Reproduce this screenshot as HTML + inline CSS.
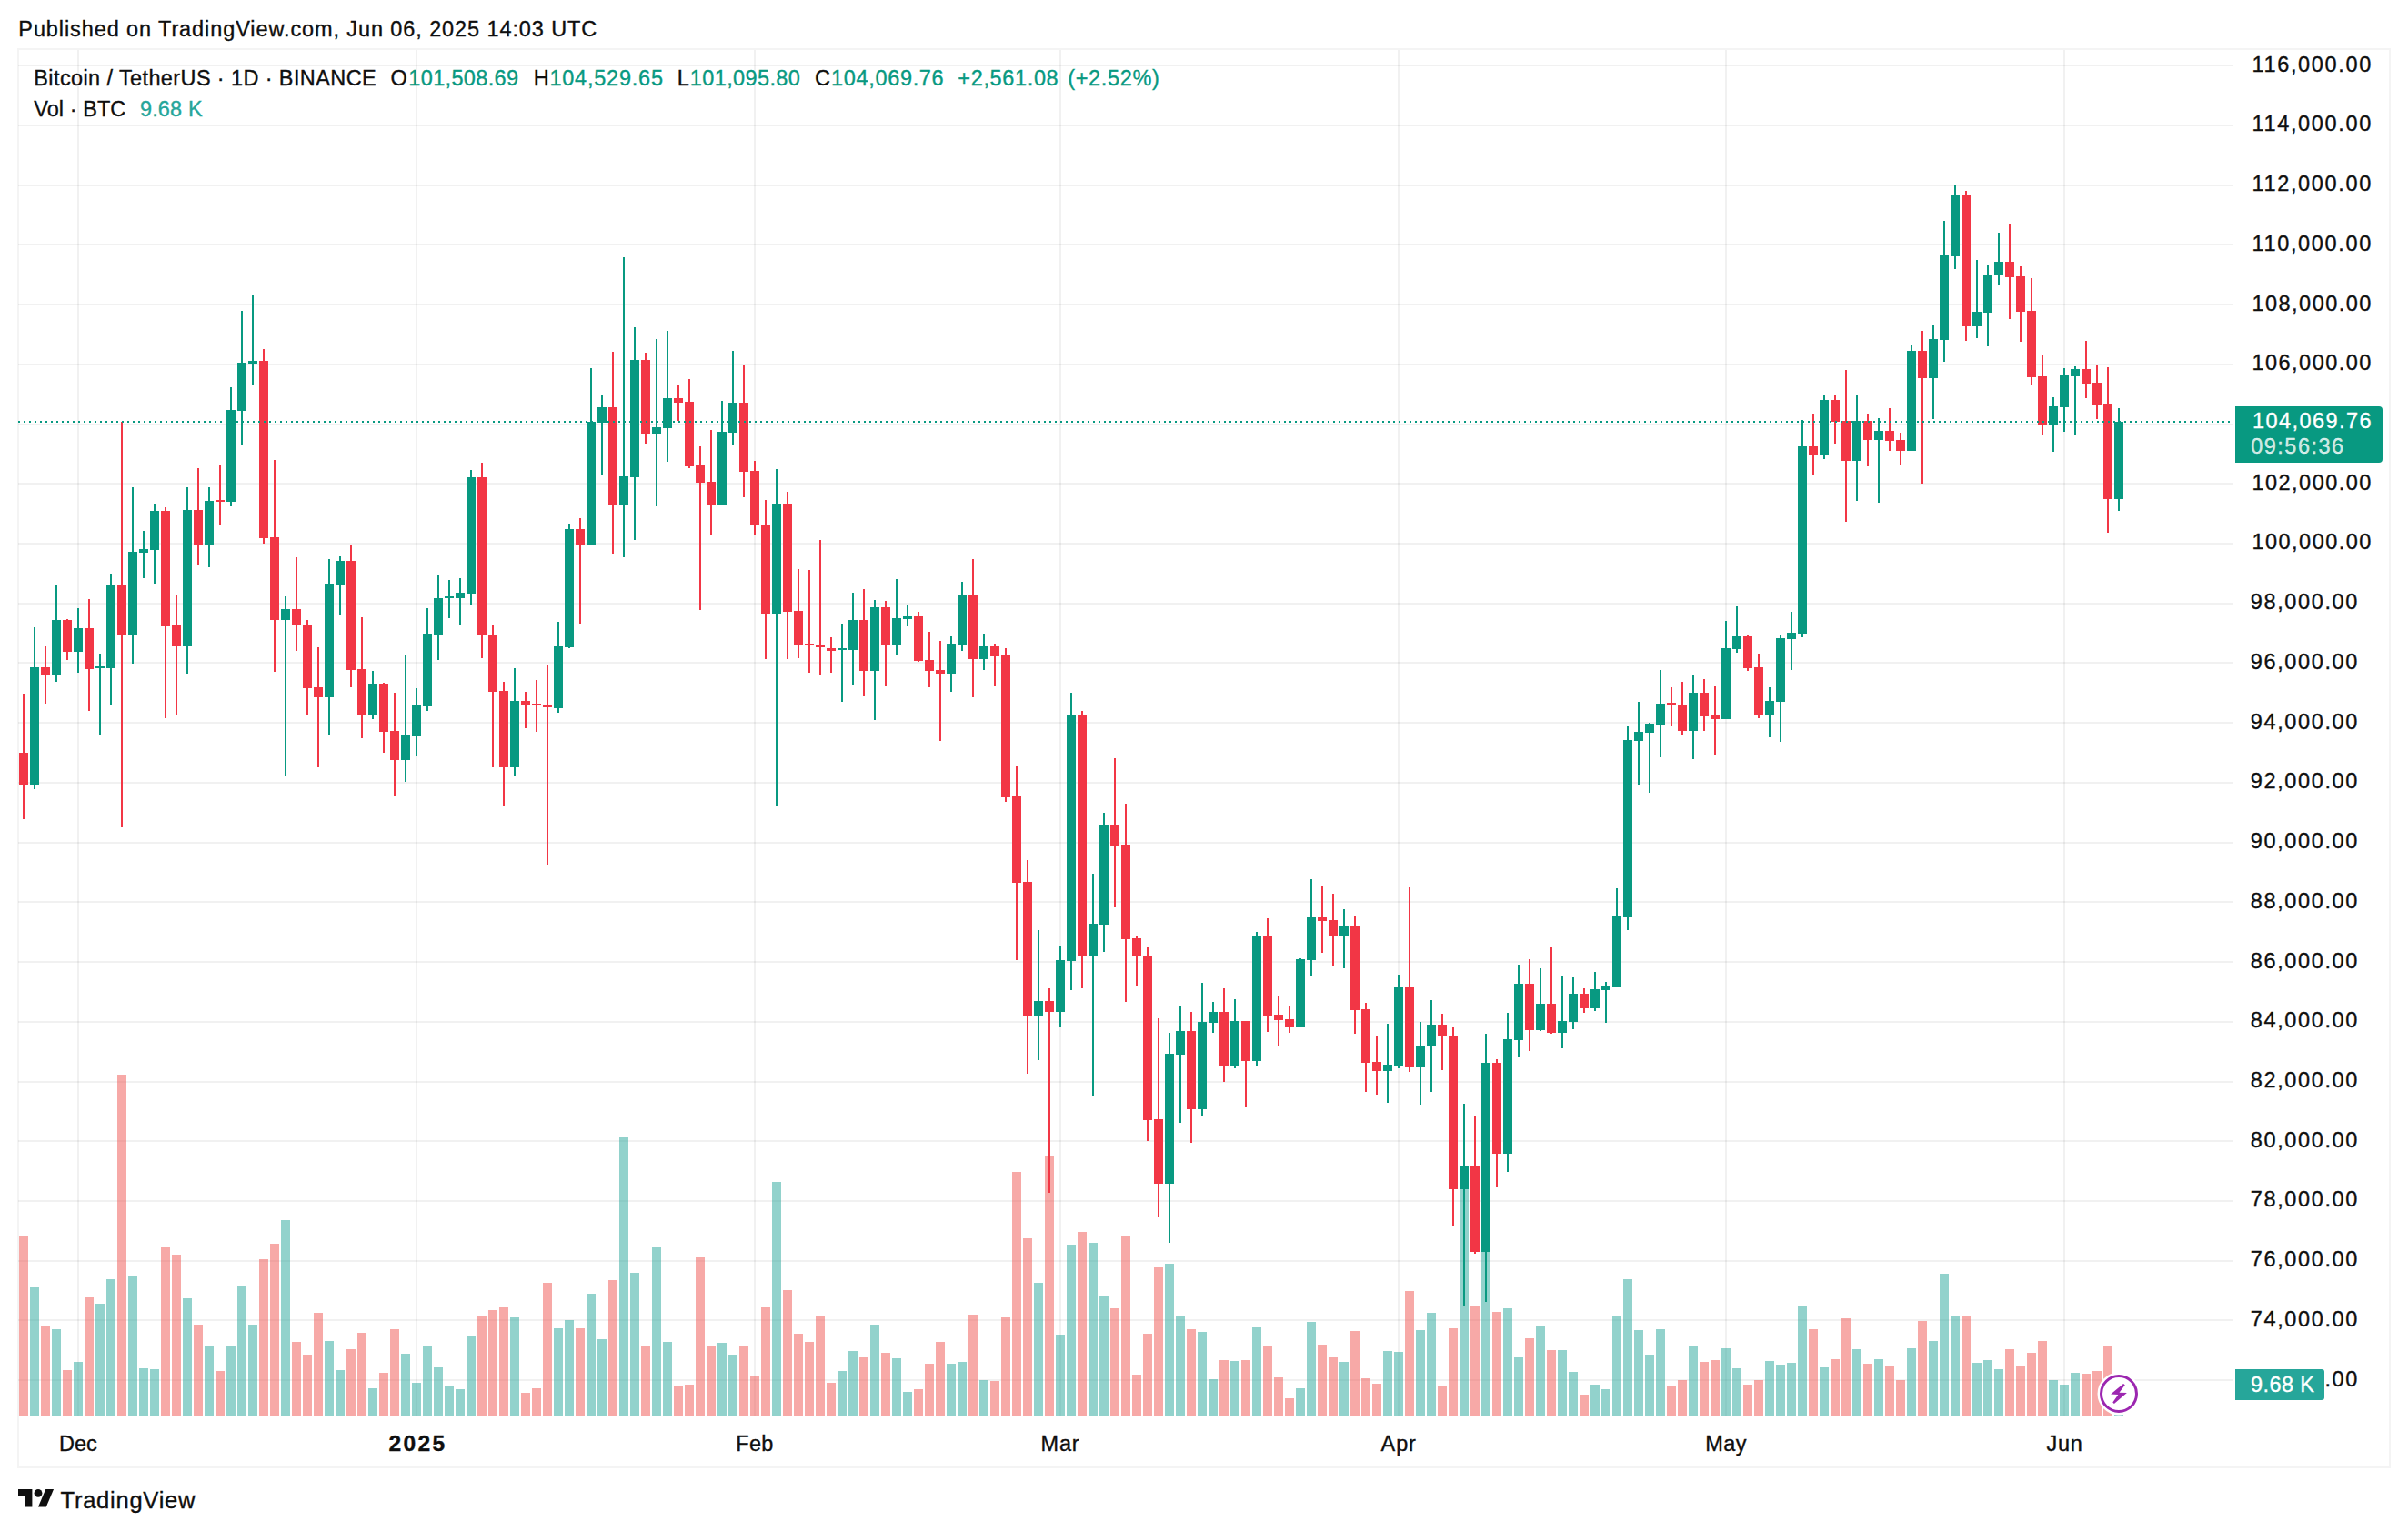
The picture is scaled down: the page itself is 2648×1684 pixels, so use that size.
<!DOCTYPE html>
<html lang="en"><head><meta charset="utf-8"><title>BTCUSDT chart - TradingView</title>
<style>html,body{margin:0;padding:0;background:#fff}body{width:2648px;height:1684px}svg{display:block}text{font-family:"Liberation Sans", Arial, sans-serif;}</style>
</head><body>
<svg width="2648" height="1684" viewBox="0 0 2648 1684">
<rect width="2648" height="1684" fill="#fff"/>
<rect x="20" y="54" width="2608" height="1560" fill="none" stroke="#f4f4f4" stroke-width="2" shape-rendering="crispEdges"/>
<g fill="rgba(0,0,0,0.055)" shape-rendering="crispEdges">
<rect x="20" y="71" width="2436" height="2"/>
<rect x="20" y="137" width="2436" height="2"/>
<rect x="20" y="203" width="2436" height="2"/>
<rect x="20" y="268" width="2436" height="2"/>
<rect x="20" y="334" width="2436" height="2"/>
<rect x="20" y="400" width="2436" height="2"/>
<rect x="20" y="466" width="2436" height="2"/>
<rect x="20" y="531" width="2436" height="2"/>
<rect x="20" y="597" width="2436" height="2"/>
<rect x="20" y="663" width="2436" height="2"/>
<rect x="20" y="728" width="2436" height="2"/>
<rect x="20" y="794" width="2436" height="2"/>
<rect x="20" y="860" width="2436" height="2"/>
<rect x="20" y="926" width="2436" height="2"/>
<rect x="20" y="991" width="2436" height="2"/>
<rect x="20" y="1057" width="2436" height="2"/>
<rect x="20" y="1123" width="2436" height="2"/>
<rect x="20" y="1189" width="2436" height="2"/>
<rect x="20" y="1254" width="2436" height="2"/>
<rect x="20" y="1320" width="2436" height="2"/>
<rect x="20" y="1386" width="2436" height="2"/>
<rect x="20" y="1451" width="2436" height="2"/>
<rect x="20" y="1517" width="2436" height="2"/>
<rect x="85" y="55" width="2" height="1502"/>
<rect x="457" y="55" width="2" height="1502"/>
<rect x="829" y="55" width="2" height="1502"/>
<rect x="1165" y="55" width="2" height="1502"/>
<rect x="1537" y="55" width="2" height="1502"/>
<rect x="1897" y="55" width="2" height="1502"/>
<rect x="2269" y="55" width="2" height="1502"/>
</g>
<g shape-rendering="crispEdges">
<rect x="21" y="1359" width="10" height="198" fill="rgba(239,83,80,0.5)"/>
<rect x="33" y="1416" width="10" height="141" fill="rgba(38,166,154,0.5)"/>
<rect x="45" y="1458" width="10" height="99" fill="rgba(239,83,80,0.5)"/>
<rect x="57" y="1462" width="10" height="95" fill="rgba(38,166,154,0.5)"/>
<rect x="69" y="1507" width="10" height="50" fill="rgba(239,83,80,0.5)"/>
<rect x="81" y="1498" width="10" height="59" fill="rgba(38,166,154,0.5)"/>
<rect x="93" y="1427" width="10" height="130" fill="rgba(239,83,80,0.5)"/>
<rect x="105" y="1434" width="10" height="123" fill="rgba(38,166,154,0.5)"/>
<rect x="117" y="1407" width="10" height="150" fill="rgba(38,166,154,0.5)"/>
<rect x="129" y="1182" width="10" height="375" fill="rgba(239,83,80,0.5)"/>
<rect x="141" y="1403" width="10" height="154" fill="rgba(38,166,154,0.5)"/>
<rect x="153" y="1505" width="10" height="52" fill="rgba(38,166,154,0.5)"/>
<rect x="165" y="1506" width="10" height="51" fill="rgba(38,166,154,0.5)"/>
<rect x="177" y="1372" width="10" height="185" fill="rgba(239,83,80,0.5)"/>
<rect x="189" y="1380" width="10" height="177" fill="rgba(239,83,80,0.5)"/>
<rect x="201" y="1428" width="10" height="129" fill="rgba(38,166,154,0.5)"/>
<rect x="213" y="1457" width="10" height="100" fill="rgba(239,83,80,0.5)"/>
<rect x="225" y="1481" width="10" height="76" fill="rgba(38,166,154,0.5)"/>
<rect x="237" y="1508" width="10" height="49" fill="rgba(239,83,80,0.5)"/>
<rect x="249" y="1480" width="10" height="77" fill="rgba(38,166,154,0.5)"/>
<rect x="261" y="1415" width="10" height="142" fill="rgba(38,166,154,0.5)"/>
<rect x="273" y="1457" width="10" height="100" fill="rgba(38,166,154,0.5)"/>
<rect x="285" y="1385" width="10" height="172" fill="rgba(239,83,80,0.5)"/>
<rect x="297" y="1368" width="10" height="189" fill="rgba(239,83,80,0.5)"/>
<rect x="309" y="1342" width="10" height="215" fill="rgba(38,166,154,0.5)"/>
<rect x="321" y="1476" width="10" height="81" fill="rgba(239,83,80,0.5)"/>
<rect x="333" y="1490" width="10" height="67" fill="rgba(239,83,80,0.5)"/>
<rect x="345" y="1444" width="10" height="113" fill="rgba(239,83,80,0.5)"/>
<rect x="357" y="1475" width="10" height="82" fill="rgba(38,166,154,0.5)"/>
<rect x="369" y="1507" width="10" height="50" fill="rgba(38,166,154,0.5)"/>
<rect x="381" y="1484" width="10" height="73" fill="rgba(239,83,80,0.5)"/>
<rect x="393" y="1466" width="10" height="91" fill="rgba(239,83,80,0.5)"/>
<rect x="405" y="1527" width="10" height="30" fill="rgba(38,166,154,0.5)"/>
<rect x="417" y="1510" width="10" height="47" fill="rgba(239,83,80,0.5)"/>
<rect x="429" y="1462" width="10" height="95" fill="rgba(239,83,80,0.5)"/>
<rect x="441" y="1489" width="10" height="68" fill="rgba(38,166,154,0.5)"/>
<rect x="453" y="1521" width="10" height="36" fill="rgba(38,166,154,0.5)"/>
<rect x="465" y="1481" width="10" height="76" fill="rgba(38,166,154,0.5)"/>
<rect x="477" y="1504" width="10" height="53" fill="rgba(38,166,154,0.5)"/>
<rect x="489" y="1525" width="10" height="32" fill="rgba(38,166,154,0.5)"/>
<rect x="501" y="1528" width="10" height="29" fill="rgba(38,166,154,0.5)"/>
<rect x="513" y="1470" width="10" height="87" fill="rgba(38,166,154,0.5)"/>
<rect x="525" y="1447" width="10" height="110" fill="rgba(239,83,80,0.5)"/>
<rect x="537" y="1441" width="10" height="116" fill="rgba(239,83,80,0.5)"/>
<rect x="549" y="1438" width="10" height="119" fill="rgba(239,83,80,0.5)"/>
<rect x="561" y="1449" width="10" height="108" fill="rgba(38,166,154,0.5)"/>
<rect x="573" y="1532" width="10" height="25" fill="rgba(239,83,80,0.5)"/>
<rect x="585" y="1527" width="10" height="30" fill="rgba(239,83,80,0.5)"/>
<rect x="597" y="1411" width="10" height="146" fill="rgba(239,83,80,0.5)"/>
<rect x="609" y="1461" width="10" height="96" fill="rgba(38,166,154,0.5)"/>
<rect x="621" y="1452" width="10" height="105" fill="rgba(38,166,154,0.5)"/>
<rect x="633" y="1461" width="10" height="96" fill="rgba(239,83,80,0.5)"/>
<rect x="645" y="1423" width="10" height="134" fill="rgba(38,166,154,0.5)"/>
<rect x="657" y="1473" width="10" height="84" fill="rgba(38,166,154,0.5)"/>
<rect x="669" y="1408" width="10" height="149" fill="rgba(239,83,80,0.5)"/>
<rect x="681" y="1251" width="10" height="306" fill="rgba(38,166,154,0.5)"/>
<rect x="693" y="1400" width="10" height="157" fill="rgba(38,166,154,0.5)"/>
<rect x="705" y="1480" width="10" height="77" fill="rgba(239,83,80,0.5)"/>
<rect x="717" y="1372" width="10" height="185" fill="rgba(38,166,154,0.5)"/>
<rect x="729" y="1476" width="10" height="81" fill="rgba(38,166,154,0.5)"/>
<rect x="741" y="1525" width="10" height="32" fill="rgba(239,83,80,0.5)"/>
<rect x="753" y="1523" width="10" height="34" fill="rgba(239,83,80,0.5)"/>
<rect x="765" y="1383" width="10" height="174" fill="rgba(239,83,80,0.5)"/>
<rect x="777" y="1481" width="10" height="76" fill="rgba(239,83,80,0.5)"/>
<rect x="789" y="1477" width="10" height="80" fill="rgba(38,166,154,0.5)"/>
<rect x="801" y="1490" width="10" height="67" fill="rgba(38,166,154,0.5)"/>
<rect x="813" y="1481" width="10" height="76" fill="rgba(239,83,80,0.5)"/>
<rect x="825" y="1514" width="10" height="43" fill="rgba(239,83,80,0.5)"/>
<rect x="837" y="1438" width="10" height="119" fill="rgba(239,83,80,0.5)"/>
<rect x="849" y="1300" width="10" height="257" fill="rgba(38,166,154,0.5)"/>
<rect x="861" y="1419" width="10" height="138" fill="rgba(239,83,80,0.5)"/>
<rect x="873" y="1467" width="10" height="90" fill="rgba(239,83,80,0.5)"/>
<rect x="885" y="1476" width="10" height="81" fill="rgba(239,83,80,0.5)"/>
<rect x="897" y="1448" width="10" height="109" fill="rgba(239,83,80,0.5)"/>
<rect x="909" y="1521" width="10" height="36" fill="rgba(239,83,80,0.5)"/>
<rect x="921" y="1508" width="10" height="49" fill="rgba(38,166,154,0.5)"/>
<rect x="933" y="1486" width="10" height="71" fill="rgba(38,166,154,0.5)"/>
<rect x="945" y="1493" width="10" height="64" fill="rgba(239,83,80,0.5)"/>
<rect x="957" y="1457" width="10" height="100" fill="rgba(38,166,154,0.5)"/>
<rect x="969" y="1488" width="10" height="69" fill="rgba(239,83,80,0.5)"/>
<rect x="981" y="1494" width="10" height="63" fill="rgba(38,166,154,0.5)"/>
<rect x="993" y="1531" width="10" height="26" fill="rgba(38,166,154,0.5)"/>
<rect x="1005" y="1528" width="10" height="29" fill="rgba(239,83,80,0.5)"/>
<rect x="1017" y="1500" width="10" height="57" fill="rgba(239,83,80,0.5)"/>
<rect x="1029" y="1476" width="10" height="81" fill="rgba(239,83,80,0.5)"/>
<rect x="1041" y="1500" width="10" height="57" fill="rgba(38,166,154,0.5)"/>
<rect x="1053" y="1498" width="10" height="59" fill="rgba(38,166,154,0.5)"/>
<rect x="1065" y="1446" width="10" height="111" fill="rgba(239,83,80,0.5)"/>
<rect x="1077" y="1518" width="10" height="39" fill="rgba(38,166,154,0.5)"/>
<rect x="1089" y="1519" width="10" height="38" fill="rgba(239,83,80,0.5)"/>
<rect x="1101" y="1449" width="10" height="108" fill="rgba(239,83,80,0.5)"/>
<rect x="1113" y="1289" width="10" height="268" fill="rgba(239,83,80,0.5)"/>
<rect x="1125" y="1362" width="10" height="195" fill="rgba(239,83,80,0.5)"/>
<rect x="1137" y="1411" width="10" height="146" fill="rgba(38,166,154,0.5)"/>
<rect x="1149" y="1271" width="10" height="286" fill="rgba(239,83,80,0.5)"/>
<rect x="1161" y="1468" width="10" height="89" fill="rgba(38,166,154,0.5)"/>
<rect x="1173" y="1369" width="10" height="188" fill="rgba(38,166,154,0.5)"/>
<rect x="1185" y="1355" width="10" height="202" fill="rgba(239,83,80,0.5)"/>
<rect x="1197" y="1367" width="10" height="190" fill="rgba(38,166,154,0.5)"/>
<rect x="1209" y="1426" width="10" height="131" fill="rgba(38,166,154,0.5)"/>
<rect x="1221" y="1439" width="10" height="118" fill="rgba(239,83,80,0.5)"/>
<rect x="1233" y="1359" width="10" height="198" fill="rgba(239,83,80,0.5)"/>
<rect x="1245" y="1512" width="10" height="45" fill="rgba(239,83,80,0.5)"/>
<rect x="1257" y="1467" width="10" height="90" fill="rgba(239,83,80,0.5)"/>
<rect x="1269" y="1394" width="10" height="163" fill="rgba(239,83,80,0.5)"/>
<rect x="1281" y="1390" width="10" height="167" fill="rgba(38,166,154,0.5)"/>
<rect x="1293" y="1447" width="10" height="110" fill="rgba(38,166,154,0.5)"/>
<rect x="1305" y="1462" width="10" height="95" fill="rgba(239,83,80,0.5)"/>
<rect x="1317" y="1465" width="10" height="92" fill="rgba(38,166,154,0.5)"/>
<rect x="1329" y="1517" width="10" height="40" fill="rgba(38,166,154,0.5)"/>
<rect x="1341" y="1496" width="10" height="61" fill="rgba(239,83,80,0.5)"/>
<rect x="1353" y="1497" width="10" height="60" fill="rgba(38,166,154,0.5)"/>
<rect x="1365" y="1496" width="10" height="61" fill="rgba(239,83,80,0.5)"/>
<rect x="1377" y="1460" width="10" height="97" fill="rgba(38,166,154,0.5)"/>
<rect x="1389" y="1481" width="10" height="76" fill="rgba(239,83,80,0.5)"/>
<rect x="1401" y="1515" width="10" height="42" fill="rgba(239,83,80,0.5)"/>
<rect x="1413" y="1538" width="10" height="19" fill="rgba(239,83,80,0.5)"/>
<rect x="1425" y="1527" width="10" height="30" fill="rgba(38,166,154,0.5)"/>
<rect x="1437" y="1454" width="10" height="103" fill="rgba(38,166,154,0.5)"/>
<rect x="1449" y="1479" width="10" height="78" fill="rgba(239,83,80,0.5)"/>
<rect x="1461" y="1493" width="10" height="64" fill="rgba(239,83,80,0.5)"/>
<rect x="1473" y="1498" width="10" height="59" fill="rgba(38,166,154,0.5)"/>
<rect x="1485" y="1464" width="10" height="93" fill="rgba(239,83,80,0.5)"/>
<rect x="1497" y="1516" width="10" height="41" fill="rgba(239,83,80,0.5)"/>
<rect x="1509" y="1522" width="10" height="35" fill="rgba(239,83,80,0.5)"/>
<rect x="1521" y="1486" width="10" height="71" fill="rgba(38,166,154,0.5)"/>
<rect x="1533" y="1487" width="10" height="70" fill="rgba(38,166,154,0.5)"/>
<rect x="1545" y="1420" width="10" height="137" fill="rgba(239,83,80,0.5)"/>
<rect x="1557" y="1463" width="10" height="94" fill="rgba(38,166,154,0.5)"/>
<rect x="1569" y="1444" width="10" height="113" fill="rgba(38,166,154,0.5)"/>
<rect x="1581" y="1524" width="10" height="33" fill="rgba(239,83,80,0.5)"/>
<rect x="1593" y="1461" width="10" height="96" fill="rgba(239,83,80,0.5)"/>
<rect x="1605" y="1290" width="10" height="267" fill="rgba(38,166,154,0.5)"/>
<rect x="1617" y="1436" width="10" height="121" fill="rgba(239,83,80,0.5)"/>
<rect x="1629" y="1330" width="10" height="227" fill="rgba(38,166,154,0.5)"/>
<rect x="1641" y="1443" width="10" height="114" fill="rgba(239,83,80,0.5)"/>
<rect x="1653" y="1439" width="10" height="118" fill="rgba(38,166,154,0.5)"/>
<rect x="1665" y="1493" width="10" height="64" fill="rgba(38,166,154,0.5)"/>
<rect x="1677" y="1472" width="10" height="85" fill="rgba(239,83,80,0.5)"/>
<rect x="1689" y="1458" width="10" height="99" fill="rgba(38,166,154,0.5)"/>
<rect x="1701" y="1485" width="10" height="72" fill="rgba(239,83,80,0.5)"/>
<rect x="1713" y="1485" width="10" height="72" fill="rgba(38,166,154,0.5)"/>
<rect x="1725" y="1509" width="10" height="48" fill="rgba(38,166,154,0.5)"/>
<rect x="1737" y="1534" width="10" height="23" fill="rgba(239,83,80,0.5)"/>
<rect x="1749" y="1523" width="10" height="34" fill="rgba(38,166,154,0.5)"/>
<rect x="1761" y="1528" width="10" height="29" fill="rgba(38,166,154,0.5)"/>
<rect x="1773" y="1448" width="10" height="109" fill="rgba(38,166,154,0.5)"/>
<rect x="1785" y="1407" width="10" height="150" fill="rgba(38,166,154,0.5)"/>
<rect x="1797" y="1463" width="10" height="94" fill="rgba(38,166,154,0.5)"/>
<rect x="1809" y="1490" width="10" height="67" fill="rgba(38,166,154,0.5)"/>
<rect x="1821" y="1462" width="10" height="95" fill="rgba(38,166,154,0.5)"/>
<rect x="1833" y="1524" width="10" height="33" fill="rgba(239,83,80,0.5)"/>
<rect x="1845" y="1518" width="10" height="39" fill="rgba(239,83,80,0.5)"/>
<rect x="1857" y="1481" width="10" height="76" fill="rgba(38,166,154,0.5)"/>
<rect x="1869" y="1498" width="10" height="59" fill="rgba(239,83,80,0.5)"/>
<rect x="1881" y="1496" width="10" height="61" fill="rgba(239,83,80,0.5)"/>
<rect x="1893" y="1483" width="10" height="74" fill="rgba(38,166,154,0.5)"/>
<rect x="1905" y="1505" width="10" height="52" fill="rgba(38,166,154,0.5)"/>
<rect x="1917" y="1523" width="10" height="34" fill="rgba(239,83,80,0.5)"/>
<rect x="1929" y="1518" width="10" height="39" fill="rgba(239,83,80,0.5)"/>
<rect x="1941" y="1497" width="10" height="60" fill="rgba(38,166,154,0.5)"/>
<rect x="1953" y="1501" width="10" height="56" fill="rgba(38,166,154,0.5)"/>
<rect x="1965" y="1499" width="10" height="58" fill="rgba(38,166,154,0.5)"/>
<rect x="1977" y="1437" width="10" height="120" fill="rgba(38,166,154,0.5)"/>
<rect x="1989" y="1462" width="10" height="95" fill="rgba(239,83,80,0.5)"/>
<rect x="2001" y="1504" width="10" height="53" fill="rgba(38,166,154,0.5)"/>
<rect x="2013" y="1495" width="10" height="62" fill="rgba(239,83,80,0.5)"/>
<rect x="2025" y="1450" width="10" height="107" fill="rgba(239,83,80,0.5)"/>
<rect x="2037" y="1484" width="10" height="73" fill="rgba(38,166,154,0.5)"/>
<rect x="2049" y="1500" width="10" height="57" fill="rgba(239,83,80,0.5)"/>
<rect x="2061" y="1495" width="10" height="62" fill="rgba(38,166,154,0.5)"/>
<rect x="2073" y="1503" width="10" height="54" fill="rgba(239,83,80,0.5)"/>
<rect x="2085" y="1518" width="10" height="39" fill="rgba(239,83,80,0.5)"/>
<rect x="2097" y="1483" width="10" height="74" fill="rgba(38,166,154,0.5)"/>
<rect x="2109" y="1453" width="10" height="104" fill="rgba(239,83,80,0.5)"/>
<rect x="2121" y="1475" width="10" height="82" fill="rgba(38,166,154,0.5)"/>
<rect x="2133" y="1401" width="10" height="156" fill="rgba(38,166,154,0.5)"/>
<rect x="2145" y="1448" width="10" height="109" fill="rgba(38,166,154,0.5)"/>
<rect x="2157" y="1448" width="10" height="109" fill="rgba(239,83,80,0.5)"/>
<rect x="2169" y="1499" width="10" height="58" fill="rgba(38,166,154,0.5)"/>
<rect x="2181" y="1496" width="10" height="61" fill="rgba(38,166,154,0.5)"/>
<rect x="2193" y="1506" width="10" height="51" fill="rgba(38,166,154,0.5)"/>
<rect x="2205" y="1484" width="10" height="73" fill="rgba(239,83,80,0.5)"/>
<rect x="2217" y="1503" width="10" height="54" fill="rgba(239,83,80,0.5)"/>
<rect x="2229" y="1488" width="10" height="69" fill="rgba(239,83,80,0.5)"/>
<rect x="2241" y="1475" width="10" height="82" fill="rgba(239,83,80,0.5)"/>
<rect x="2253" y="1518" width="10" height="39" fill="rgba(38,166,154,0.5)"/>
<rect x="2265" y="1523" width="10" height="34" fill="rgba(38,166,154,0.5)"/>
<rect x="2277" y="1510" width="10" height="47" fill="rgba(38,166,154,0.5)"/>
<rect x="2289" y="1511" width="10" height="46" fill="rgba(239,83,80,0.5)"/>
<rect x="2301" y="1508" width="10" height="49" fill="rgba(239,83,80,0.5)"/>
<rect x="2313" y="1480" width="10" height="77" fill="rgba(239,83,80,0.5)"/>
<rect x="2325" y="1523" width="10" height="34" fill="rgba(38,166,154,0.5)"/>
</g>
<g shape-rendering="crispEdges">
<rect x="25" y="763" width="2" height="138" fill="#f23645"/>
<rect x="21" y="828" width="10" height="35" fill="#f23645"/>
<rect x="37" y="690" width="2" height="178" fill="#089981"/>
<rect x="33" y="734" width="10" height="129" fill="#089981"/>
<rect x="49" y="711" width="2" height="63" fill="#f23645"/>
<rect x="45" y="734" width="10" height="8" fill="#f23645"/>
<rect x="61" y="643" width="2" height="107" fill="#089981"/>
<rect x="57" y="682" width="10" height="60" fill="#089981"/>
<rect x="73" y="681" width="2" height="45" fill="#f23645"/>
<rect x="69" y="682" width="10" height="35" fill="#f23645"/>
<rect x="85" y="669" width="2" height="71" fill="#089981"/>
<rect x="81" y="691" width="10" height="26" fill="#089981"/>
<rect x="97" y="659" width="2" height="123" fill="#f23645"/>
<rect x="93" y="691" width="10" height="45" fill="#f23645"/>
<rect x="109" y="719" width="2" height="90" fill="#089981"/>
<rect x="105" y="733" width="10" height="2" fill="#089981"/>
<rect x="121" y="631" width="2" height="145" fill="#089981"/>
<rect x="117" y="644" width="10" height="91" fill="#089981"/>
<rect x="133" y="464" width="2" height="446" fill="#f23645"/>
<rect x="129" y="644" width="10" height="55" fill="#f23645"/>
<rect x="145" y="536" width="2" height="194" fill="#089981"/>
<rect x="141" y="607" width="10" height="92" fill="#089981"/>
<rect x="157" y="584" width="2" height="52" fill="#089981"/>
<rect x="153" y="604" width="10" height="4" fill="#089981"/>
<rect x="169" y="554" width="2" height="88" fill="#089981"/>
<rect x="165" y="562" width="10" height="43" fill="#089981"/>
<rect x="181" y="558" width="2" height="232" fill="#f23645"/>
<rect x="177" y="562" width="10" height="127" fill="#f23645"/>
<rect x="193" y="655" width="2" height="132" fill="#f23645"/>
<rect x="189" y="688" width="10" height="23" fill="#f23645"/>
<rect x="205" y="536" width="2" height="205" fill="#089981"/>
<rect x="201" y="561" width="10" height="150" fill="#089981"/>
<rect x="217" y="515" width="2" height="106" fill="#f23645"/>
<rect x="213" y="561" width="10" height="38" fill="#f23645"/>
<rect x="229" y="536" width="2" height="88" fill="#089981"/>
<rect x="225" y="551" width="10" height="48" fill="#089981"/>
<rect x="241" y="511" width="2" height="67" fill="#f23645"/>
<rect x="237" y="550" width="10" height="2" fill="#f23645"/>
<rect x="253" y="426" width="2" height="131" fill="#089981"/>
<rect x="249" y="451" width="10" height="101" fill="#089981"/>
<rect x="265" y="342" width="2" height="147" fill="#089981"/>
<rect x="261" y="399" width="10" height="53" fill="#089981"/>
<rect x="277" y="324" width="2" height="99" fill="#089981"/>
<rect x="273" y="397" width="10" height="3" fill="#089981"/>
<rect x="289" y="384" width="2" height="214" fill="#f23645"/>
<rect x="285" y="397" width="10" height="195" fill="#f23645"/>
<rect x="301" y="506" width="2" height="233" fill="#f23645"/>
<rect x="297" y="591" width="10" height="91" fill="#f23645"/>
<rect x="313" y="656" width="2" height="197" fill="#089981"/>
<rect x="309" y="670" width="10" height="12" fill="#089981"/>
<rect x="325" y="613" width="2" height="103" fill="#f23645"/>
<rect x="321" y="670" width="10" height="18" fill="#f23645"/>
<rect x="337" y="682" width="2" height="105" fill="#f23645"/>
<rect x="333" y="687" width="10" height="70" fill="#f23645"/>
<rect x="349" y="712" width="2" height="132" fill="#f23645"/>
<rect x="345" y="756" width="10" height="11" fill="#f23645"/>
<rect x="361" y="615" width="2" height="194" fill="#089981"/>
<rect x="357" y="642" width="10" height="125" fill="#089981"/>
<rect x="373" y="612" width="2" height="64" fill="#089981"/>
<rect x="369" y="617" width="10" height="26" fill="#089981"/>
<rect x="385" y="599" width="2" height="157" fill="#f23645"/>
<rect x="381" y="617" width="10" height="120" fill="#f23645"/>
<rect x="397" y="679" width="2" height="133" fill="#f23645"/>
<rect x="393" y="736" width="10" height="50" fill="#f23645"/>
<rect x="409" y="738" width="2" height="53" fill="#089981"/>
<rect x="405" y="752" width="10" height="34" fill="#089981"/>
<rect x="421" y="751" width="2" height="77" fill="#f23645"/>
<rect x="417" y="752" width="10" height="53" fill="#f23645"/>
<rect x="433" y="762" width="2" height="114" fill="#f23645"/>
<rect x="429" y="804" width="10" height="32" fill="#f23645"/>
<rect x="445" y="721" width="2" height="139" fill="#089981"/>
<rect x="441" y="809" width="10" height="27" fill="#089981"/>
<rect x="457" y="757" width="2" height="75" fill="#089981"/>
<rect x="453" y="776" width="10" height="34" fill="#089981"/>
<rect x="469" y="669" width="2" height="113" fill="#089981"/>
<rect x="465" y="697" width="10" height="80" fill="#089981"/>
<rect x="481" y="632" width="2" height="94" fill="#089981"/>
<rect x="477" y="658" width="10" height="40" fill="#089981"/>
<rect x="493" y="638" width="2" height="42" fill="#089981"/>
<rect x="489" y="656" width="10" height="2" fill="#089981"/>
<rect x="505" y="636" width="2" height="52" fill="#089981"/>
<rect x="501" y="652" width="10" height="6" fill="#089981"/>
<rect x="517" y="517" width="2" height="149" fill="#089981"/>
<rect x="513" y="525" width="10" height="128" fill="#089981"/>
<rect x="529" y="509" width="2" height="215" fill="#f23645"/>
<rect x="525" y="525" width="10" height="174" fill="#f23645"/>
<rect x="541" y="688" width="2" height="156" fill="#f23645"/>
<rect x="537" y="698" width="10" height="63" fill="#f23645"/>
<rect x="553" y="750" width="2" height="137" fill="#f23645"/>
<rect x="549" y="760" width="10" height="84" fill="#f23645"/>
<rect x="565" y="735" width="2" height="119" fill="#089981"/>
<rect x="561" y="771" width="10" height="73" fill="#089981"/>
<rect x="577" y="761" width="2" height="40" fill="#f23645"/>
<rect x="573" y="771" width="10" height="5" fill="#f23645"/>
<rect x="589" y="748" width="2" height="57" fill="#f23645"/>
<rect x="585" y="774" width="10" height="2" fill="#f23645"/>
<rect x="601" y="731" width="2" height="220" fill="#f23645"/>
<rect x="597" y="776" width="10" height="2" fill="#f23645"/>
<rect x="613" y="684" width="2" height="100" fill="#089981"/>
<rect x="609" y="711" width="10" height="68" fill="#089981"/>
<rect x="625" y="576" width="2" height="137" fill="#089981"/>
<rect x="621" y="582" width="10" height="130" fill="#089981"/>
<rect x="637" y="570" width="2" height="116" fill="#f23645"/>
<rect x="633" y="582" width="10" height="17" fill="#f23645"/>
<rect x="649" y="405" width="2" height="195" fill="#089981"/>
<rect x="645" y="464" width="10" height="135" fill="#089981"/>
<rect x="661" y="434" width="2" height="89" fill="#089981"/>
<rect x="657" y="448" width="10" height="17" fill="#089981"/>
<rect x="673" y="387" width="2" height="222" fill="#f23645"/>
<rect x="669" y="448" width="10" height="107" fill="#f23645"/>
<rect x="685" y="283" width="2" height="330" fill="#089981"/>
<rect x="681" y="524" width="10" height="31" fill="#089981"/>
<rect x="697" y="360" width="2" height="234" fill="#089981"/>
<rect x="693" y="396" width="10" height="129" fill="#089981"/>
<rect x="709" y="388" width="2" height="100" fill="#f23645"/>
<rect x="705" y="396" width="10" height="81" fill="#f23645"/>
<rect x="721" y="373" width="2" height="184" fill="#089981"/>
<rect x="717" y="470" width="10" height="7" fill="#089981"/>
<rect x="733" y="364" width="2" height="144" fill="#089981"/>
<rect x="729" y="438" width="10" height="33" fill="#089981"/>
<rect x="745" y="424" width="2" height="39" fill="#f23645"/>
<rect x="741" y="438" width="10" height="5" fill="#f23645"/>
<rect x="757" y="417" width="2" height="98" fill="#f23645"/>
<rect x="753" y="442" width="10" height="71" fill="#f23645"/>
<rect x="769" y="491" width="2" height="180" fill="#f23645"/>
<rect x="765" y="512" width="10" height="19" fill="#f23645"/>
<rect x="781" y="473" width="2" height="116" fill="#f23645"/>
<rect x="777" y="530" width="10" height="25" fill="#f23645"/>
<rect x="793" y="441" width="2" height="114" fill="#089981"/>
<rect x="789" y="475" width="10" height="80" fill="#089981"/>
<rect x="805" y="386" width="2" height="104" fill="#089981"/>
<rect x="801" y="443" width="10" height="33" fill="#089981"/>
<rect x="817" y="401" width="2" height="146" fill="#f23645"/>
<rect x="813" y="443" width="10" height="76" fill="#f23645"/>
<rect x="829" y="507" width="2" height="82" fill="#f23645"/>
<rect x="825" y="518" width="10" height="60" fill="#f23645"/>
<rect x="841" y="550" width="2" height="175" fill="#f23645"/>
<rect x="837" y="577" width="10" height="98" fill="#f23645"/>
<rect x="853" y="516" width="2" height="370" fill="#089981"/>
<rect x="849" y="554" width="10" height="121" fill="#089981"/>
<rect x="865" y="541" width="2" height="184" fill="#f23645"/>
<rect x="861" y="554" width="10" height="119" fill="#f23645"/>
<rect x="877" y="626" width="2" height="98" fill="#f23645"/>
<rect x="873" y="672" width="10" height="38" fill="#f23645"/>
<rect x="889" y="627" width="2" height="113" fill="#f23645"/>
<rect x="885" y="708" width="10" height="2" fill="#f23645"/>
<rect x="901" y="594" width="2" height="148" fill="#f23645"/>
<rect x="897" y="710" width="10" height="2" fill="#f23645"/>
<rect x="913" y="701" width="2" height="39" fill="#f23645"/>
<rect x="909" y="713" width="10" height="3" fill="#f23645"/>
<rect x="925" y="686" width="2" height="86" fill="#089981"/>
<rect x="921" y="713" width="10" height="2" fill="#089981"/>
<rect x="937" y="652" width="2" height="102" fill="#089981"/>
<rect x="933" y="682" width="10" height="33" fill="#089981"/>
<rect x="949" y="648" width="2" height="118" fill="#f23645"/>
<rect x="945" y="682" width="10" height="56" fill="#f23645"/>
<rect x="961" y="660" width="2" height="132" fill="#089981"/>
<rect x="957" y="668" width="10" height="70" fill="#089981"/>
<rect x="973" y="661" width="2" height="94" fill="#f23645"/>
<rect x="969" y="668" width="10" height="42" fill="#f23645"/>
<rect x="985" y="637" width="2" height="84" fill="#089981"/>
<rect x="981" y="680" width="10" height="30" fill="#089981"/>
<rect x="997" y="665" width="2" height="24" fill="#089981"/>
<rect x="993" y="678" width="10" height="3" fill="#089981"/>
<rect x="1009" y="673" width="2" height="55" fill="#f23645"/>
<rect x="1005" y="678" width="10" height="49" fill="#f23645"/>
<rect x="1021" y="695" width="2" height="61" fill="#f23645"/>
<rect x="1017" y="726" width="10" height="12" fill="#f23645"/>
<rect x="1033" y="705" width="2" height="110" fill="#f23645"/>
<rect x="1029" y="737" width="10" height="4" fill="#f23645"/>
<rect x="1045" y="700" width="2" height="61" fill="#089981"/>
<rect x="1041" y="708" width="10" height="33" fill="#089981"/>
<rect x="1057" y="640" width="2" height="76" fill="#089981"/>
<rect x="1053" y="654" width="10" height="55" fill="#089981"/>
<rect x="1069" y="615" width="2" height="152" fill="#f23645"/>
<rect x="1065" y="654" width="10" height="71" fill="#f23645"/>
<rect x="1081" y="697" width="2" height="40" fill="#089981"/>
<rect x="1077" y="711" width="10" height="14" fill="#089981"/>
<rect x="1093" y="708" width="2" height="47" fill="#f23645"/>
<rect x="1089" y="711" width="10" height="11" fill="#f23645"/>
<rect x="1105" y="713" width="2" height="169" fill="#f23645"/>
<rect x="1101" y="721" width="10" height="156" fill="#f23645"/>
<rect x="1117" y="843" width="2" height="213" fill="#f23645"/>
<rect x="1113" y="876" width="10" height="95" fill="#f23645"/>
<rect x="1129" y="946" width="2" height="235" fill="#f23645"/>
<rect x="1125" y="970" width="10" height="147" fill="#f23645"/>
<rect x="1141" y="1023" width="2" height="143" fill="#089981"/>
<rect x="1137" y="1101" width="10" height="16" fill="#089981"/>
<rect x="1153" y="1087" width="2" height="225" fill="#f23645"/>
<rect x="1149" y="1101" width="10" height="12" fill="#f23645"/>
<rect x="1165" y="1040" width="2" height="90" fill="#089981"/>
<rect x="1161" y="1056" width="10" height="57" fill="#089981"/>
<rect x="1177" y="762" width="2" height="327" fill="#089981"/>
<rect x="1173" y="786" width="10" height="271" fill="#089981"/>
<rect x="1189" y="782" width="2" height="305" fill="#f23645"/>
<rect x="1185" y="786" width="10" height="266" fill="#f23645"/>
<rect x="1201" y="961" width="2" height="245" fill="#089981"/>
<rect x="1197" y="1016" width="10" height="36" fill="#089981"/>
<rect x="1213" y="894" width="2" height="153" fill="#089981"/>
<rect x="1209" y="907" width="10" height="110" fill="#089981"/>
<rect x="1225" y="834" width="2" height="164" fill="#f23645"/>
<rect x="1221" y="907" width="10" height="23" fill="#f23645"/>
<rect x="1237" y="884" width="2" height="218" fill="#f23645"/>
<rect x="1233" y="929" width="10" height="104" fill="#f23645"/>
<rect x="1249" y="1029" width="2" height="55" fill="#f23645"/>
<rect x="1245" y="1032" width="10" height="20" fill="#f23645"/>
<rect x="1261" y="1042" width="2" height="213" fill="#f23645"/>
<rect x="1257" y="1051" width="10" height="181" fill="#f23645"/>
<rect x="1273" y="1120" width="2" height="219" fill="#f23645"/>
<rect x="1269" y="1231" width="10" height="71" fill="#f23645"/>
<rect x="1285" y="1136" width="2" height="231" fill="#089981"/>
<rect x="1281" y="1159" width="10" height="143" fill="#089981"/>
<rect x="1297" y="1106" width="2" height="129" fill="#089981"/>
<rect x="1293" y="1134" width="10" height="26" fill="#089981"/>
<rect x="1309" y="1113" width="2" height="144" fill="#f23645"/>
<rect x="1305" y="1134" width="10" height="86" fill="#f23645"/>
<rect x="1321" y="1081" width="2" height="147" fill="#089981"/>
<rect x="1317" y="1124" width="10" height="96" fill="#089981"/>
<rect x="1333" y="1102" width="2" height="34" fill="#089981"/>
<rect x="1329" y="1113" width="10" height="12" fill="#089981"/>
<rect x="1345" y="1087" width="2" height="103" fill="#f23645"/>
<rect x="1341" y="1113" width="10" height="59" fill="#f23645"/>
<rect x="1357" y="1099" width="2" height="76" fill="#089981"/>
<rect x="1353" y="1123" width="10" height="49" fill="#089981"/>
<rect x="1369" y="1123" width="2" height="95" fill="#f23645"/>
<rect x="1365" y="1123" width="10" height="44" fill="#f23645"/>
<rect x="1381" y="1025" width="2" height="147" fill="#089981"/>
<rect x="1377" y="1030" width="10" height="137" fill="#089981"/>
<rect x="1393" y="1010" width="2" height="125" fill="#f23645"/>
<rect x="1389" y="1030" width="10" height="87" fill="#f23645"/>
<rect x="1405" y="1096" width="2" height="55" fill="#f23645"/>
<rect x="1401" y="1116" width="10" height="6" fill="#f23645"/>
<rect x="1417" y="1106" width="2" height="30" fill="#f23645"/>
<rect x="1413" y="1121" width="10" height="9" fill="#f23645"/>
<rect x="1429" y="1054" width="2" height="76" fill="#089981"/>
<rect x="1425" y="1055" width="10" height="75" fill="#089981"/>
<rect x="1441" y="967" width="2" height="107" fill="#089981"/>
<rect x="1437" y="1009" width="10" height="47" fill="#089981"/>
<rect x="1453" y="975" width="2" height="73" fill="#f23645"/>
<rect x="1449" y="1009" width="10" height="4" fill="#f23645"/>
<rect x="1465" y="983" width="2" height="80" fill="#f23645"/>
<rect x="1461" y="1012" width="10" height="17" fill="#f23645"/>
<rect x="1477" y="1000" width="2" height="65" fill="#089981"/>
<rect x="1473" y="1018" width="10" height="11" fill="#089981"/>
<rect x="1489" y="1008" width="2" height="129" fill="#f23645"/>
<rect x="1485" y="1018" width="10" height="93" fill="#f23645"/>
<rect x="1501" y="1103" width="2" height="98" fill="#f23645"/>
<rect x="1497" y="1110" width="10" height="59" fill="#f23645"/>
<rect x="1513" y="1139" width="2" height="65" fill="#f23645"/>
<rect x="1509" y="1168" width="10" height="10" fill="#f23645"/>
<rect x="1525" y="1126" width="2" height="87" fill="#089981"/>
<rect x="1521" y="1171" width="10" height="7" fill="#089981"/>
<rect x="1537" y="1072" width="2" height="103" fill="#089981"/>
<rect x="1533" y="1086" width="10" height="86" fill="#089981"/>
<rect x="1549" y="976" width="2" height="203" fill="#f23645"/>
<rect x="1545" y="1086" width="10" height="88" fill="#f23645"/>
<rect x="1561" y="1124" width="2" height="91" fill="#089981"/>
<rect x="1557" y="1150" width="10" height="24" fill="#089981"/>
<rect x="1573" y="1100" width="2" height="101" fill="#089981"/>
<rect x="1569" y="1127" width="10" height="24" fill="#089981"/>
<rect x="1585" y="1115" width="2" height="62" fill="#f23645"/>
<rect x="1581" y="1127" width="10" height="13" fill="#f23645"/>
<rect x="1597" y="1130" width="2" height="219" fill="#f23645"/>
<rect x="1593" y="1139" width="10" height="169" fill="#f23645"/>
<rect x="1609" y="1214" width="2" height="222" fill="#089981"/>
<rect x="1605" y="1283" width="10" height="25" fill="#089981"/>
<rect x="1621" y="1227" width="2" height="152" fill="#f23645"/>
<rect x="1617" y="1283" width="10" height="94" fill="#f23645"/>
<rect x="1633" y="1137" width="2" height="295" fill="#089981"/>
<rect x="1629" y="1169" width="10" height="208" fill="#089981"/>
<rect x="1645" y="1165" width="2" height="141" fill="#f23645"/>
<rect x="1641" y="1169" width="10" height="100" fill="#f23645"/>
<rect x="1657" y="1114" width="2" height="175" fill="#089981"/>
<rect x="1653" y="1143" width="10" height="126" fill="#089981"/>
<rect x="1669" y="1061" width="2" height="102" fill="#089981"/>
<rect x="1665" y="1082" width="10" height="62" fill="#089981"/>
<rect x="1681" y="1055" width="2" height="101" fill="#f23645"/>
<rect x="1677" y="1082" width="10" height="51" fill="#f23645"/>
<rect x="1693" y="1065" width="2" height="69" fill="#089981"/>
<rect x="1689" y="1104" width="10" height="29" fill="#089981"/>
<rect x="1705" y="1042" width="2" height="95" fill="#f23645"/>
<rect x="1701" y="1104" width="10" height="32" fill="#f23645"/>
<rect x="1717" y="1074" width="2" height="79" fill="#089981"/>
<rect x="1713" y="1123" width="10" height="13" fill="#089981"/>
<rect x="1729" y="1075" width="2" height="57" fill="#089981"/>
<rect x="1725" y="1093" width="10" height="31" fill="#089981"/>
<rect x="1741" y="1087" width="2" height="27" fill="#f23645"/>
<rect x="1737" y="1093" width="10" height="16" fill="#f23645"/>
<rect x="1753" y="1069" width="2" height="43" fill="#089981"/>
<rect x="1749" y="1088" width="10" height="21" fill="#089981"/>
<rect x="1765" y="1080" width="2" height="45" fill="#089981"/>
<rect x="1761" y="1085" width="10" height="4" fill="#089981"/>
<rect x="1777" y="977" width="2" height="109" fill="#089981"/>
<rect x="1773" y="1008" width="10" height="78" fill="#089981"/>
<rect x="1789" y="799" width="2" height="224" fill="#089981"/>
<rect x="1785" y="814" width="10" height="195" fill="#089981"/>
<rect x="1801" y="772" width="2" height="91" fill="#089981"/>
<rect x="1797" y="805" width="10" height="10" fill="#089981"/>
<rect x="1813" y="795" width="2" height="77" fill="#089981"/>
<rect x="1809" y="796" width="10" height="10" fill="#089981"/>
<rect x="1825" y="737" width="2" height="96" fill="#089981"/>
<rect x="1821" y="774" width="10" height="23" fill="#089981"/>
<rect x="1837" y="756" width="2" height="43" fill="#f23645"/>
<rect x="1833" y="773" width="10" height="2" fill="#f23645"/>
<rect x="1849" y="750" width="2" height="58" fill="#f23645"/>
<rect x="1845" y="775" width="10" height="29" fill="#f23645"/>
<rect x="1861" y="742" width="2" height="93" fill="#089981"/>
<rect x="1857" y="762" width="10" height="42" fill="#089981"/>
<rect x="1873" y="747" width="2" height="57" fill="#f23645"/>
<rect x="1869" y="762" width="10" height="26" fill="#f23645"/>
<rect x="1885" y="755" width="2" height="76" fill="#f23645"/>
<rect x="1881" y="787" width="10" height="4" fill="#f23645"/>
<rect x="1897" y="683" width="2" height="108" fill="#089981"/>
<rect x="1893" y="713" width="10" height="78" fill="#089981"/>
<rect x="1909" y="667" width="2" height="51" fill="#089981"/>
<rect x="1905" y="700" width="10" height="14" fill="#089981"/>
<rect x="1921" y="699" width="2" height="39" fill="#f23645"/>
<rect x="1917" y="700" width="10" height="35" fill="#f23645"/>
<rect x="1933" y="719" width="2" height="71" fill="#f23645"/>
<rect x="1929" y="734" width="10" height="53" fill="#f23645"/>
<rect x="1945" y="756" width="2" height="55" fill="#089981"/>
<rect x="1941" y="771" width="10" height="16" fill="#089981"/>
<rect x="1957" y="699" width="2" height="117" fill="#089981"/>
<rect x="1953" y="702" width="10" height="70" fill="#089981"/>
<rect x="1969" y="673" width="2" height="64" fill="#089981"/>
<rect x="1965" y="696" width="10" height="7" fill="#089981"/>
<rect x="1981" y="462" width="2" height="239" fill="#089981"/>
<rect x="1977" y="491" width="10" height="206" fill="#089981"/>
<rect x="1993" y="455" width="2" height="67" fill="#f23645"/>
<rect x="1989" y="491" width="10" height="10" fill="#f23645"/>
<rect x="2005" y="434" width="2" height="71" fill="#089981"/>
<rect x="2001" y="440" width="10" height="61" fill="#089981"/>
<rect x="2017" y="435" width="2" height="53" fill="#f23645"/>
<rect x="2013" y="440" width="10" height="24" fill="#f23645"/>
<rect x="2029" y="407" width="2" height="167" fill="#f23645"/>
<rect x="2025" y="463" width="10" height="44" fill="#f23645"/>
<rect x="2041" y="435" width="2" height="116" fill="#089981"/>
<rect x="2037" y="463" width="10" height="44" fill="#089981"/>
<rect x="2053" y="455" width="2" height="58" fill="#f23645"/>
<rect x="2049" y="463" width="10" height="21" fill="#f23645"/>
<rect x="2065" y="460" width="2" height="93" fill="#089981"/>
<rect x="2061" y="474" width="10" height="10" fill="#089981"/>
<rect x="2077" y="449" width="2" height="47" fill="#f23645"/>
<rect x="2073" y="474" width="10" height="11" fill="#f23645"/>
<rect x="2089" y="476" width="2" height="36" fill="#f23645"/>
<rect x="2085" y="484" width="10" height="12" fill="#f23645"/>
<rect x="2101" y="379" width="2" height="117" fill="#089981"/>
<rect x="2097" y="386" width="10" height="110" fill="#089981"/>
<rect x="2113" y="364" width="2" height="168" fill="#f23645"/>
<rect x="2109" y="386" width="10" height="30" fill="#f23645"/>
<rect x="2125" y="358" width="2" height="103" fill="#089981"/>
<rect x="2121" y="373" width="10" height="43" fill="#089981"/>
<rect x="2137" y="243" width="2" height="155" fill="#089981"/>
<rect x="2133" y="281" width="10" height="93" fill="#089981"/>
<rect x="2149" y="204" width="2" height="92" fill="#089981"/>
<rect x="2145" y="214" width="10" height="68" fill="#089981"/>
<rect x="2161" y="210" width="2" height="165" fill="#f23645"/>
<rect x="2157" y="214" width="10" height="145" fill="#f23645"/>
<rect x="2173" y="286" width="2" height="86" fill="#089981"/>
<rect x="2169" y="343" width="10" height="16" fill="#089981"/>
<rect x="2185" y="292" width="2" height="89" fill="#089981"/>
<rect x="2181" y="302" width="10" height="42" fill="#089981"/>
<rect x="2197" y="256" width="2" height="57" fill="#089981"/>
<rect x="2193" y="288" width="10" height="15" fill="#089981"/>
<rect x="2209" y="246" width="2" height="105" fill="#f23645"/>
<rect x="2205" y="288" width="10" height="17" fill="#f23645"/>
<rect x="2221" y="293" width="2" height="83" fill="#f23645"/>
<rect x="2217" y="304" width="10" height="39" fill="#f23645"/>
<rect x="2233" y="306" width="2" height="117" fill="#f23645"/>
<rect x="2229" y="342" width="10" height="73" fill="#f23645"/>
<rect x="2245" y="391" width="2" height="88" fill="#f23645"/>
<rect x="2241" y="414" width="10" height="54" fill="#f23645"/>
<rect x="2257" y="437" width="2" height="60" fill="#089981"/>
<rect x="2253" y="447" width="10" height="21" fill="#089981"/>
<rect x="2269" y="405" width="2" height="70" fill="#089981"/>
<rect x="2265" y="413" width="10" height="35" fill="#089981"/>
<rect x="2281" y="403" width="2" height="75" fill="#089981"/>
<rect x="2277" y="406" width="10" height="8" fill="#089981"/>
<rect x="2293" y="375" width="2" height="63" fill="#f23645"/>
<rect x="2289" y="406" width="10" height="16" fill="#f23645"/>
<rect x="2305" y="401" width="2" height="60" fill="#f23645"/>
<rect x="2301" y="421" width="10" height="24" fill="#f23645"/>
<rect x="2317" y="404" width="2" height="182" fill="#f23645"/>
<rect x="2313" y="444" width="10" height="105" fill="#f23645"/>
<rect x="2329" y="449" width="2" height="113" fill="#089981"/>
<rect x="2325" y="464" width="10" height="85" fill="#089981"/>
</g>
<g fill="#089981" shape-rendering="crispEdges">
<path d="M20 463h2v2h-2zM26 463h2v2h-2zM32 463h2v2h-2zM38 463h2v2h-2zM44 463h2v2h-2zM50 463h2v2h-2zM56 463h2v2h-2zM62 463h2v2h-2zM68 463h2v2h-2zM74 463h2v2h-2zM80 463h2v2h-2zM86 463h2v2h-2zM92 463h2v2h-2zM98 463h2v2h-2zM104 463h2v2h-2zM110 463h2v2h-2zM116 463h2v2h-2zM122 463h2v2h-2zM128 463h2v2h-2zM134 463h2v2h-2zM140 463h2v2h-2zM146 463h2v2h-2zM152 463h2v2h-2zM158 463h2v2h-2zM164 463h2v2h-2zM170 463h2v2h-2zM176 463h2v2h-2zM182 463h2v2h-2zM188 463h2v2h-2zM194 463h2v2h-2zM200 463h2v2h-2zM206 463h2v2h-2zM212 463h2v2h-2zM218 463h2v2h-2zM224 463h2v2h-2zM230 463h2v2h-2zM236 463h2v2h-2zM242 463h2v2h-2zM248 463h2v2h-2zM254 463h2v2h-2zM260 463h2v2h-2zM266 463h2v2h-2zM272 463h2v2h-2zM278 463h2v2h-2zM284 463h2v2h-2zM290 463h2v2h-2zM296 463h2v2h-2zM302 463h2v2h-2zM308 463h2v2h-2zM314 463h2v2h-2zM320 463h2v2h-2zM326 463h2v2h-2zM332 463h2v2h-2zM338 463h2v2h-2zM344 463h2v2h-2zM350 463h2v2h-2zM356 463h2v2h-2zM362 463h2v2h-2zM368 463h2v2h-2zM374 463h2v2h-2zM380 463h2v2h-2zM386 463h2v2h-2zM392 463h2v2h-2zM398 463h2v2h-2zM404 463h2v2h-2zM410 463h2v2h-2zM416 463h2v2h-2zM422 463h2v2h-2zM428 463h2v2h-2zM434 463h2v2h-2zM440 463h2v2h-2zM446 463h2v2h-2zM452 463h2v2h-2zM458 463h2v2h-2zM464 463h2v2h-2zM470 463h2v2h-2zM476 463h2v2h-2zM482 463h2v2h-2zM488 463h2v2h-2zM494 463h2v2h-2zM500 463h2v2h-2zM506 463h2v2h-2zM512 463h2v2h-2zM518 463h2v2h-2zM524 463h2v2h-2zM530 463h2v2h-2zM536 463h2v2h-2zM542 463h2v2h-2zM548 463h2v2h-2zM554 463h2v2h-2zM560 463h2v2h-2zM566 463h2v2h-2zM572 463h2v2h-2zM578 463h2v2h-2zM584 463h2v2h-2zM590 463h2v2h-2zM596 463h2v2h-2zM602 463h2v2h-2zM608 463h2v2h-2zM614 463h2v2h-2zM620 463h2v2h-2zM626 463h2v2h-2zM632 463h2v2h-2zM638 463h2v2h-2zM644 463h2v2h-2zM650 463h2v2h-2zM656 463h2v2h-2zM662 463h2v2h-2zM668 463h2v2h-2zM674 463h2v2h-2zM680 463h2v2h-2zM686 463h2v2h-2zM692 463h2v2h-2zM698 463h2v2h-2zM704 463h2v2h-2zM710 463h2v2h-2zM716 463h2v2h-2zM722 463h2v2h-2zM728 463h2v2h-2zM734 463h2v2h-2zM740 463h2v2h-2zM746 463h2v2h-2zM752 463h2v2h-2zM758 463h2v2h-2zM764 463h2v2h-2zM770 463h2v2h-2zM776 463h2v2h-2zM782 463h2v2h-2zM788 463h2v2h-2zM794 463h2v2h-2zM800 463h2v2h-2zM806 463h2v2h-2zM812 463h2v2h-2zM818 463h2v2h-2zM824 463h2v2h-2zM830 463h2v2h-2zM836 463h2v2h-2zM842 463h2v2h-2zM848 463h2v2h-2zM854 463h2v2h-2zM860 463h2v2h-2zM866 463h2v2h-2zM872 463h2v2h-2zM878 463h2v2h-2zM884 463h2v2h-2zM890 463h2v2h-2zM896 463h2v2h-2zM902 463h2v2h-2zM908 463h2v2h-2zM914 463h2v2h-2zM920 463h2v2h-2zM926 463h2v2h-2zM932 463h2v2h-2zM938 463h2v2h-2zM944 463h2v2h-2zM950 463h2v2h-2zM956 463h2v2h-2zM962 463h2v2h-2zM968 463h2v2h-2zM974 463h2v2h-2zM980 463h2v2h-2zM986 463h2v2h-2zM992 463h2v2h-2zM998 463h2v2h-2zM1004 463h2v2h-2zM1010 463h2v2h-2zM1016 463h2v2h-2zM1022 463h2v2h-2zM1028 463h2v2h-2zM1034 463h2v2h-2zM1040 463h2v2h-2zM1046 463h2v2h-2zM1052 463h2v2h-2zM1058 463h2v2h-2zM1064 463h2v2h-2zM1070 463h2v2h-2zM1076 463h2v2h-2zM1082 463h2v2h-2zM1088 463h2v2h-2zM1094 463h2v2h-2zM1100 463h2v2h-2zM1106 463h2v2h-2zM1112 463h2v2h-2zM1118 463h2v2h-2zM1124 463h2v2h-2zM1130 463h2v2h-2zM1136 463h2v2h-2zM1142 463h2v2h-2zM1148 463h2v2h-2zM1154 463h2v2h-2zM1160 463h2v2h-2zM1166 463h2v2h-2zM1172 463h2v2h-2zM1178 463h2v2h-2zM1184 463h2v2h-2zM1190 463h2v2h-2zM1196 463h2v2h-2zM1202 463h2v2h-2zM1208 463h2v2h-2zM1214 463h2v2h-2zM1220 463h2v2h-2zM1226 463h2v2h-2zM1232 463h2v2h-2zM1238 463h2v2h-2zM1244 463h2v2h-2zM1250 463h2v2h-2zM1256 463h2v2h-2zM1262 463h2v2h-2zM1268 463h2v2h-2zM1274 463h2v2h-2zM1280 463h2v2h-2zM1286 463h2v2h-2zM1292 463h2v2h-2zM1298 463h2v2h-2zM1304 463h2v2h-2zM1310 463h2v2h-2zM1316 463h2v2h-2zM1322 463h2v2h-2zM1328 463h2v2h-2zM1334 463h2v2h-2zM1340 463h2v2h-2zM1346 463h2v2h-2zM1352 463h2v2h-2zM1358 463h2v2h-2zM1364 463h2v2h-2zM1370 463h2v2h-2zM1376 463h2v2h-2zM1382 463h2v2h-2zM1388 463h2v2h-2zM1394 463h2v2h-2zM1400 463h2v2h-2zM1406 463h2v2h-2zM1412 463h2v2h-2zM1418 463h2v2h-2zM1424 463h2v2h-2zM1430 463h2v2h-2zM1436 463h2v2h-2zM1442 463h2v2h-2zM1448 463h2v2h-2zM1454 463h2v2h-2zM1460 463h2v2h-2zM1466 463h2v2h-2zM1472 463h2v2h-2zM1478 463h2v2h-2zM1484 463h2v2h-2zM1490 463h2v2h-2zM1496 463h2v2h-2zM1502 463h2v2h-2zM1508 463h2v2h-2zM1514 463h2v2h-2zM1520 463h2v2h-2zM1526 463h2v2h-2zM1532 463h2v2h-2zM1538 463h2v2h-2zM1544 463h2v2h-2zM1550 463h2v2h-2zM1556 463h2v2h-2zM1562 463h2v2h-2zM1568 463h2v2h-2zM1574 463h2v2h-2zM1580 463h2v2h-2zM1586 463h2v2h-2zM1592 463h2v2h-2zM1598 463h2v2h-2zM1604 463h2v2h-2zM1610 463h2v2h-2zM1616 463h2v2h-2zM1622 463h2v2h-2zM1628 463h2v2h-2zM1634 463h2v2h-2zM1640 463h2v2h-2zM1646 463h2v2h-2zM1652 463h2v2h-2zM1658 463h2v2h-2zM1664 463h2v2h-2zM1670 463h2v2h-2zM1676 463h2v2h-2zM1682 463h2v2h-2zM1688 463h2v2h-2zM1694 463h2v2h-2zM1700 463h2v2h-2zM1706 463h2v2h-2zM1712 463h2v2h-2zM1718 463h2v2h-2zM1724 463h2v2h-2zM1730 463h2v2h-2zM1736 463h2v2h-2zM1742 463h2v2h-2zM1748 463h2v2h-2zM1754 463h2v2h-2zM1760 463h2v2h-2zM1766 463h2v2h-2zM1772 463h2v2h-2zM1778 463h2v2h-2zM1784 463h2v2h-2zM1790 463h2v2h-2zM1796 463h2v2h-2zM1802 463h2v2h-2zM1808 463h2v2h-2zM1814 463h2v2h-2zM1820 463h2v2h-2zM1826 463h2v2h-2zM1832 463h2v2h-2zM1838 463h2v2h-2zM1844 463h2v2h-2zM1850 463h2v2h-2zM1856 463h2v2h-2zM1862 463h2v2h-2zM1868 463h2v2h-2zM1874 463h2v2h-2zM1880 463h2v2h-2zM1886 463h2v2h-2zM1892 463h2v2h-2zM1898 463h2v2h-2zM1904 463h2v2h-2zM1910 463h2v2h-2zM1916 463h2v2h-2zM1922 463h2v2h-2zM1928 463h2v2h-2zM1934 463h2v2h-2zM1940 463h2v2h-2zM1946 463h2v2h-2zM1952 463h2v2h-2zM1958 463h2v2h-2zM1964 463h2v2h-2zM1970 463h2v2h-2zM1976 463h2v2h-2zM1982 463h2v2h-2zM1988 463h2v2h-2zM1994 463h2v2h-2zM2000 463h2v2h-2zM2006 463h2v2h-2zM2012 463h2v2h-2zM2018 463h2v2h-2zM2024 463h2v2h-2zM2030 463h2v2h-2zM2036 463h2v2h-2zM2042 463h2v2h-2zM2048 463h2v2h-2zM2054 463h2v2h-2zM2060 463h2v2h-2zM2066 463h2v2h-2zM2072 463h2v2h-2zM2078 463h2v2h-2zM2084 463h2v2h-2zM2090 463h2v2h-2zM2096 463h2v2h-2zM2102 463h2v2h-2zM2108 463h2v2h-2zM2114 463h2v2h-2zM2120 463h2v2h-2zM2126 463h2v2h-2zM2132 463h2v2h-2zM2138 463h2v2h-2zM2144 463h2v2h-2zM2150 463h2v2h-2zM2156 463h2v2h-2zM2162 463h2v2h-2zM2168 463h2v2h-2zM2174 463h2v2h-2zM2180 463h2v2h-2zM2186 463h2v2h-2zM2192 463h2v2h-2zM2198 463h2v2h-2zM2204 463h2v2h-2zM2210 463h2v2h-2zM2216 463h2v2h-2zM2222 463h2v2h-2zM2228 463h2v2h-2zM2234 463h2v2h-2zM2240 463h2v2h-2zM2246 463h2v2h-2zM2252 463h2v2h-2zM2258 463h2v2h-2zM2264 463h2v2h-2zM2270 463h2v2h-2zM2276 463h2v2h-2zM2282 463h2v2h-2zM2288 463h2v2h-2zM2294 463h2v2h-2zM2300 463h2v2h-2zM2306 463h2v2h-2zM2312 463h2v2h-2zM2318 463h2v2h-2zM2324 463h2v2h-2zM2330 463h2v2h-2zM2336 463h2v2h-2zM2342 463h2v2h-2zM2348 463h2v2h-2zM2354 463h2v2h-2zM2360 463h2v2h-2zM2366 463h2v2h-2zM2372 463h2v2h-2zM2378 463h2v2h-2zM2384 463h2v2h-2zM2390 463h2v2h-2zM2396 463h2v2h-2zM2402 463h2v2h-2zM2408 463h2v2h-2zM2414 463h2v2h-2zM2420 463h2v2h-2zM2426 463h2v2h-2zM2432 463h2v2h-2zM2438 463h2v2h-2zM2444 463h2v2h-2zM2450 463h2v2h-2z"/>
</g>
<text x="2476.5" y="78.6" font-size="23.5" fill="#0f0f0f" stroke="#0f0f0f" stroke-width="0.35" textLength="130.8" lengthAdjust="spacing">116,000.00</text>
<text x="2476.5" y="144.3" font-size="23.5" fill="#0f0f0f" stroke="#0f0f0f" stroke-width="0.35" textLength="130.8" lengthAdjust="spacing">114,000.00</text>
<text x="2476.5" y="210.0" font-size="23.5" fill="#0f0f0f" stroke="#0f0f0f" stroke-width="0.35" textLength="130.8" lengthAdjust="spacing">112,000.00</text>
<text x="2476.5" y="275.8" font-size="23.5" fill="#0f0f0f" stroke="#0f0f0f" stroke-width="0.35" textLength="130.8" lengthAdjust="spacing">110,000.00</text>
<text x="2476.5" y="341.5" font-size="23.5" fill="#0f0f0f" stroke="#0f0f0f" stroke-width="0.35" textLength="130.8" lengthAdjust="spacing">108,000.00</text>
<text x="2476.5" y="407.2" font-size="23.5" fill="#0f0f0f" stroke="#0f0f0f" stroke-width="0.35" textLength="130.8" lengthAdjust="spacing">106,000.00</text>
<text x="2476.5" y="472.9" font-size="23.5" fill="#0f0f0f" stroke="#0f0f0f" stroke-width="0.35" textLength="130.8" lengthAdjust="spacing">104,000.00</text>
<text x="2476.5" y="538.7" font-size="23.5" fill="#0f0f0f" stroke="#0f0f0f" stroke-width="0.35" textLength="130.8" lengthAdjust="spacing">102,000.00</text>
<text x="2476.5" y="604.4" font-size="23.5" fill="#0f0f0f" stroke="#0f0f0f" stroke-width="0.35" textLength="130.8" lengthAdjust="spacing">100,000.00</text>
<text x="2474.8" y="670.1" font-size="23.5" fill="#0f0f0f" stroke="#0f0f0f" stroke-width="0.35" textLength="117.6" lengthAdjust="spacing">98,000.00</text>
<text x="2474.8" y="735.9" font-size="23.5" fill="#0f0f0f" stroke="#0f0f0f" stroke-width="0.35" textLength="117.6" lengthAdjust="spacing">96,000.00</text>
<text x="2474.8" y="801.6" font-size="23.5" fill="#0f0f0f" stroke="#0f0f0f" stroke-width="0.35" textLength="117.6" lengthAdjust="spacing">94,000.00</text>
<text x="2474.8" y="867.3" font-size="23.5" fill="#0f0f0f" stroke="#0f0f0f" stroke-width="0.35" textLength="117.6" lengthAdjust="spacing">92,000.00</text>
<text x="2474.8" y="933.0" font-size="23.5" fill="#0f0f0f" stroke="#0f0f0f" stroke-width="0.35" textLength="117.6" lengthAdjust="spacing">90,000.00</text>
<text x="2474.8" y="998.8" font-size="23.5" fill="#0f0f0f" stroke="#0f0f0f" stroke-width="0.35" textLength="117.6" lengthAdjust="spacing">88,000.00</text>
<text x="2474.8" y="1064.5" font-size="23.5" fill="#0f0f0f" stroke="#0f0f0f" stroke-width="0.35" textLength="117.6" lengthAdjust="spacing">86,000.00</text>
<text x="2474.8" y="1130.2" font-size="23.5" fill="#0f0f0f" stroke="#0f0f0f" stroke-width="0.35" textLength="117.6" lengthAdjust="spacing">84,000.00</text>
<text x="2474.8" y="1195.9" font-size="23.5" fill="#0f0f0f" stroke="#0f0f0f" stroke-width="0.35" textLength="117.6" lengthAdjust="spacing">82,000.00</text>
<text x="2474.8" y="1261.7" font-size="23.5" fill="#0f0f0f" stroke="#0f0f0f" stroke-width="0.35" textLength="117.6" lengthAdjust="spacing">80,000.00</text>
<text x="2474.8" y="1327.4" font-size="23.5" fill="#0f0f0f" stroke="#0f0f0f" stroke-width="0.35" textLength="117.6" lengthAdjust="spacing">78,000.00</text>
<text x="2474.8" y="1393.1" font-size="23.5" fill="#0f0f0f" stroke="#0f0f0f" stroke-width="0.35" textLength="117.6" lengthAdjust="spacing">76,000.00</text>
<text x="2474.8" y="1458.8" font-size="23.5" fill="#0f0f0f" stroke="#0f0f0f" stroke-width="0.35" textLength="117.6" lengthAdjust="spacing">74,000.00</text>
<text x="2474.8" y="1524.6" font-size="23.5" fill="#0f0f0f" stroke="#0f0f0f" stroke-width="0.35" textLength="117.6" lengthAdjust="spacing">72,000.00</text>
<path d="M2458 1506h95a3 3 0 0 1 3 3v28a3 3 0 0 1 -3 3h-95z" fill="#26a69a"/>
<text x="2475" y="1530.5" font-size="23.5" fill="#fff" stroke="#fff" stroke-width="0.35" textLength="70" lengthAdjust="spacing">9.68 K</text>
<path d="M2458 447h158a4 4 0 0 1 4 4v54a4 4 0 0 1 -4 4h-158z" fill="#089981"/>
<text x="2477" y="471" font-size="23.5" fill="#fff" stroke="#fff" stroke-width="0.35" textLength="130.5" lengthAdjust="spacing">104,069.76</text>
<text x="2475.3" y="499" font-size="23.5" fill="#fff" stroke="#fff" stroke-width="0.35" textLength="101.7" lengthAdjust="spacing" fill-opacity="0.8" stroke-opacity="0.8">09:56:36</text>
<text x="65.0" y="1596.2" font-size="23.5" fill="#0f0f0f" stroke="#0f0f0f" stroke-width="0.35" textLength="41.8" lengthAdjust="spacing">Dec</text>
<text x="427.5" y="1596.2" font-size="24.6" fill="#0f0f0f" stroke="#0f0f0f" stroke-width="0.35" textLength="61.8" lengthAdjust="spacing" font-weight="bold">2025</text>
<text x="809.2" y="1596.2" font-size="23.5" fill="#0f0f0f" stroke="#0f0f0f" stroke-width="0.35" textLength="41.2" lengthAdjust="spacing">Feb</text>
<text x="1144.6" y="1596.2" font-size="23.5" fill="#0f0f0f" stroke="#0f0f0f" stroke-width="0.35" textLength="42.1" lengthAdjust="spacing">Mar</text>
<text x="1518.6" y="1596.2" font-size="23.5" fill="#0f0f0f" stroke="#0f0f0f" stroke-width="0.35" textLength="38.3" lengthAdjust="spacing">Apr</text>
<text x="1875.2" y="1596.2" font-size="23.5" fill="#0f0f0f" stroke="#0f0f0f" stroke-width="0.35" textLength="45.4" lengthAdjust="spacing">May</text>
<text x="2250.4" y="1596.2" font-size="23.5" fill="#0f0f0f" stroke="#0f0f0f" stroke-width="0.35" textLength="39.4" lengthAdjust="spacing">Jun</text>
<text x="37.3" y="93.8" font-size="23.5" fill="#0f0f0f" stroke="#0f0f0f" stroke-width="0.35" textLength="376.4" lengthAdjust="spacing">Bitcoin / TetherUS · 1D · BINANCE</text>
<text x="429.6" y="93.8" font-size="23.5" fill="#0f0f0f" stroke="#0f0f0f" stroke-width="0.35" textLength="16.8" lengthAdjust="spacing">O</text>
<text x="449.3" y="93.8" font-size="23.5" fill="#089981" stroke="#089981" stroke-width="0.35" textLength="120.7" lengthAdjust="spacing">101,508.69</text>
<text x="586.8" y="93.8" font-size="23.5" fill="#0f0f0f" stroke="#0f0f0f" stroke-width="0.35" textLength="14.4" lengthAdjust="spacing">H</text>
<text x="604.4" y="93.8" font-size="23.5" fill="#089981" stroke="#089981" stroke-width="0.35" textLength="124.6" lengthAdjust="spacing">104,529.65</text>
<text x="744.8" y="93.8" font-size="23.5" fill="#0f0f0f" stroke="#0f0f0f" stroke-width="0.35" textLength="10.9" lengthAdjust="spacing">L</text>
<text x="758.8" y="93.8" font-size="23.5" fill="#089981" stroke="#089981" stroke-width="0.35" textLength="121" lengthAdjust="spacing">101,095.80</text>
<text x="895.9" y="93.8" font-size="23.5" fill="#0f0f0f" stroke="#0f0f0f" stroke-width="0.35" textLength="14.7" lengthAdjust="spacing">C</text>
<text x="913.9" y="93.8" font-size="23.5" fill="#089981" stroke="#089981" stroke-width="0.35" textLength="123.8" lengthAdjust="spacing">104,069.76</text>
<text x="1053.3" y="93.8" font-size="23.5" fill="#089981" stroke="#089981" stroke-width="0.35" textLength="110.4" lengthAdjust="spacing">+2,561.08</text>
<text x="1174.2" y="93.8" font-size="23.5" fill="#089981" stroke="#089981" stroke-width="0.35" textLength="100.7" lengthAdjust="spacing">(+2.52%)</text>
<text x="37.3" y="127.9" font-size="23.5" fill="#0f0f0f" stroke="#0f0f0f" stroke-width="0.35" textLength="101" lengthAdjust="spacing">Vol · BTC</text>
<text x="154" y="127.9" font-size="23.5" fill="#26a69a" stroke="#26a69a" stroke-width="0.35" textLength="68.6" lengthAdjust="spacing">9.68 K</text>
<text x="20.3" y="39.8" font-size="23.5" fill="#0f0f0f" stroke="#0f0f0f" stroke-width="0.35" textLength="636" lengthAdjust="spacing">Published on TradingView.com, Jun 06, 2025 14:03 UTC</text>
<g transform="translate(20,1633.8) scale(1.1,1.075)" fill="#0f0f0f"><path d="M14 22H7V11H0V4h14v18z"/><circle cx="20" cy="8" r="4"/><path d="M28 22h-8l7.5-18h8L28 22z"/></g>
<text x="66.5" y="1659" font-size="25.6" fill="#0f0f0f" stroke="#0f0f0f" stroke-width="0.35" textLength="148" lengthAdjust="spacing">TradingView</text>
<circle cx="2330" cy="1533" r="23.5" fill="#fff"/>
<circle cx="2330" cy="1533" r="19.5" fill="#fff" stroke="#9c27b0" stroke-width="3"/>
<path d="M2335 1522L2336.8 1523.3L2330.5 1531.8L2338.9 1531.9L2324.9 1544L2323.3 1542.4L2329.3 1533.9L2321.1 1533.5Z" fill="#9c27b0"/>
</svg></body></html>
